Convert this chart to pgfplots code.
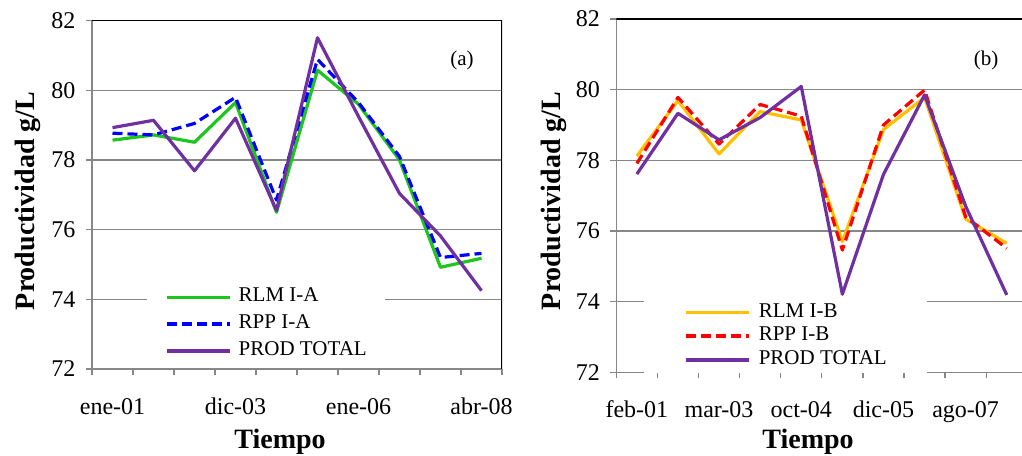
\documentclass[border=0pt]{standalone}
\usepackage{fontspec}
\setmainfont{Liberation Serif}
\usepackage{pgfplots}
\usepackage{pgfplotstable}
\pgfplotsset{compat=1.18}
\definecolor{GridGray}{HTML}{878787}
\definecolor{RlmGreen}{HTML}{1CC61C}
\definecolor{RppBlue}{HTML}{0000FF}
\definecolor{ProdPurple}{HTML}{7030A0}
\definecolor{RlmGold}{HTML}{FFC000}
\definecolor{RppRed}{HTML}{FF0000}

% panel (a): RLM I-A, RPP I-A, PROD TOTAL
\pgfplotstableread{
x   rlm    rpp    prod
1   78.57  78.77  78.93
2   78.72  78.72  79.14
3   78.51  79.05  77.69
4   79.65  79.80  79.20
5   76.50  76.85  76.55
6   80.58  80.89  81.51
7   79.60  79.65  79.25
8   78.00  78.10  77.04
9   74.92  75.20  75.82
10  75.18  75.32  74.25
}\dataA
% panel (b): RLM I-B, RPP I-B, PROD TOTAL
\pgfplotstableread{
x   rlm    rpp    prod
1   78.12  77.91  77.61
2   79.69  79.78  79.33
3   78.18  78.46  78.58
4   79.38  79.58  79.21
5   79.14  79.25  80.09
6   75.70  75.46  74.21
7   78.87  79.00  77.60
8   79.78  79.99  79.85
9   76.34  76.40  76.70
10  75.65  75.51  74.19
}\dataB

\pgfplotsset{
  panel/.style={
    scale only axis,
    xmin=0.5,xmax=10.5,ymin=72,ymax=82,
    ytick={72,74,...,82},
    xtick={0.5,1.5,...,10.5},xticklabels={},
    axis x line*=bottom,axis y line*=left,
    axis line style={-,draw=GridGray,line width=1.3pt},
    tick style={draw=GridGray,line width=1.3pt},
    major tick length=6pt,tick align=outside,
    ymajorgrids,grid style={draw=GridGray,line width=1.3pt},
    tick label style={font=\fontsize{24}{28}\selectfont},
    yticklabel style={xshift=-7pt},
    /pgf/number format/assume math mode=true,
    extra x tick style={major tick length=0pt,grid=none,
      xticklabel style={anchor=base,yshift=-45pt}},
    legend cell align=left,
    legend image code/.code={\draw[##1,line width=3.6pt] (0pt,0pt) -- (63pt,0pt);},
    every axis plot/.append style={line width=3.2pt,no marks,line join=round},
  },
  dashline/.style={dash pattern=on 10pt off 5pt},
}

\begin{document}
\begin{tikzpicture}
\path[use as bounding box] (0pt,0pt) rectangle (1022pt,455pt);

\begin{axis}[panel,at={(92pt,86pt)},anchor=south west,
  width=410pt,height=348.3pt,
  extra x ticks={1,4,7,10},
  extra x tick labels={ene-01,dic-03,ene-06,abr-08},
  legend style={at={(axis description cs:0.134,0.245)},anchor=north west,
    draw=none,fill=white,inner xsep=18pt,inner ysep=4pt,
    font=\fontsize{21}{24}\selectfont,row sep=7.7pt,column sep=7pt,
    nodes={inner sep=0pt,text height=14pt,text depth=5pt}}]
  \addplot[RlmGreen] table[x=x,y=rlm] {\dataA};
  \addlegendentry{RLM I-A}
  \addplot[RppBlue,dashline] table[x=x,y=rpp] {\dataA};
  \addlegendentry{RPP I-A}
  \addplot[ProdPurple] table[x=x,y=prod] {\dataA};
  \addlegendentry{PROD TOTAL}
  \draw[black,line width=1.3pt] (rel axis cs:0,1) -- (rel axis cs:1,1) -- (rel axis cs:1,0);
\end{axis}

\begin{axis}[panel,at={(616.3pt,82.7pt)},anchor=south west,
  width=411pt,height=353.3pt,
  extra x ticks={1,3,5,7,9},
  extra x tick labels={feb-01,mar-03,oct-04,dic-05,ago-07},
  legend style={at={(axis description cs:0.0674,0.208)},anchor=north west,
    draw=none,fill=white,inner xsep=40pt,inner ysep=4pt,
    font=\fontsize{21}{24}\selectfont,row sep=4.7pt,column sep=8pt,
    nodes={inner sep=0pt,text height=14pt,text depth=5pt}}]
  \addplot[RlmGold] table[x=x,y=rlm] {\dataB};
  \addlegendentry{RLM I-B}
  \addplot[RppRed,dashline] table[x=x,y=rpp] {\dataB};
  \addlegendentry{RPP I-B}
  \addplot[ProdPurple] table[x=x,y=prod] {\dataB};
  \addlegendentry{PROD TOTAL}
  \draw[black,line width=1.3pt] (rel axis cs:0,1) -- (rel axis cs:1,1) -- (rel axis cs:1,0);
\end{axis}

% axis titles and panel tags
\node[rotate=90,anchor=base,font=\fontsize{28}{32}\selectfont\bfseries] at (34pt,254pt) {Productividad g/L};
\node[rotate=90,anchor=base,font=\fontsize{28}{32}\selectfont\bfseries] at (560pt,254pt) {Productividad g/L};
\node[anchor=base,font=\fontsize{28}{32}\selectfont\bfseries] at (280pt,7pt) {Tiempo};
\node[anchor=base,font=\fontsize{28}{32}\selectfont\bfseries] at (808pt,7pt) {Tiempo};
\node[anchor=base,font=\fontsize{21}{24}\selectfont] at (462pt,389pt) {(a)};
\node[anchor=base,font=\fontsize{21}{24}\selectfont] at (986pt,389pt) {(b)};
\end{tikzpicture}
\end{document}
